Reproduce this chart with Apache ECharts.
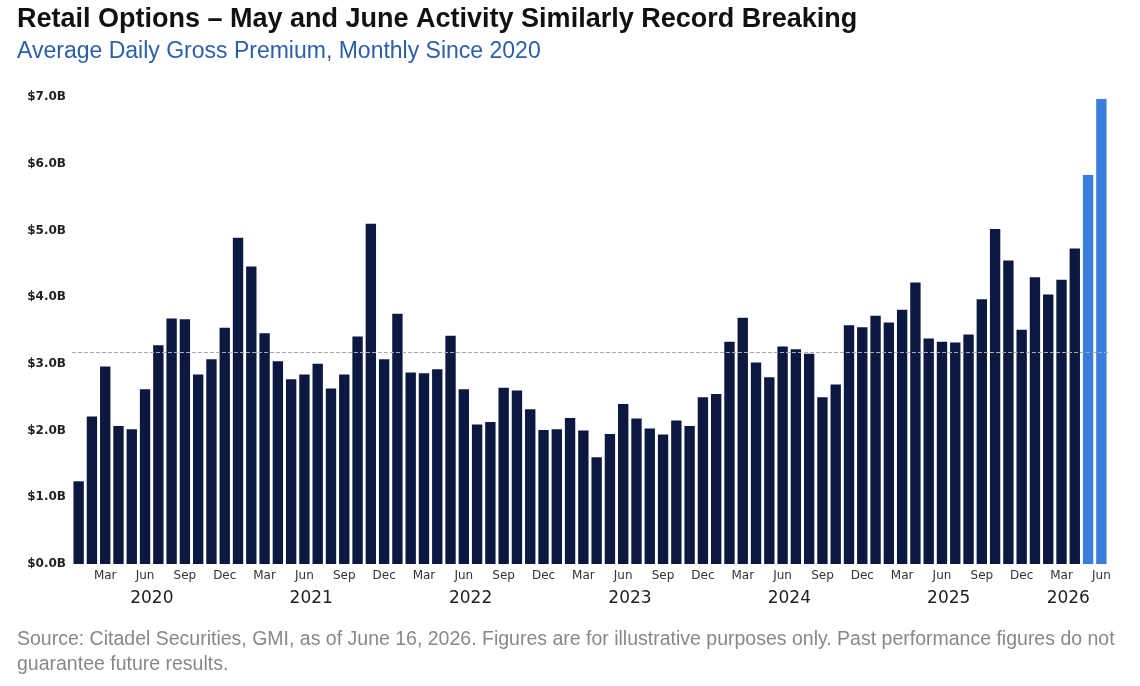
<!DOCTYPE html>
<html lang="en">
<head>
    <meta charset="UTF-8">
    <title>Retail Options</title>
    <style>
        * { margin: 0; padding: 0; box-sizing: border-box; }
        html, body { height: 100%; background: #fff; }
        #box { width: 1140px; height: 686px; }
    </style>
    <script src="https://cdn.jsdelivr.net/npm/echarts@6/dist/echarts.min.js"></script>
</head>
<body>
    <div id="box"></div>
    <script>
        var monthNames = ['Jan', 'Feb', 'Mar', 'Apr', 'May', 'Jun', 'Jul', 'Aug', 'Sep', 'Oct', 'Nov', 'Dec'];
        var years = [2020, 2021, 2022, 2023, 2024, 2025, 2026];

        // average daily gross premium, $B, Jan 2020 .. Jun 2026
        var premium = [
            1.24, 2.21, 2.96, 2.07, 2.02, 2.62, 3.28, 3.68, 3.67, 2.84, 3.07, 3.54,
            4.89, 4.46, 3.46, 3.04, 2.77, 2.84, 3.00, 2.63, 2.84, 3.41, 5.10, 3.07,
            3.75, 2.87, 2.86, 2.92, 3.42, 2.62, 2.09, 2.13, 2.64, 2.60, 2.32, 2.01,
            2.02, 2.19, 2.00, 1.60, 1.95, 2.40, 2.18, 2.03, 1.94, 2.15, 2.07, 2.50,
            2.55, 3.33, 3.69, 3.02, 2.80, 3.26, 3.22, 3.15, 2.50, 2.69, 3.58, 3.55,
            3.72, 3.62, 3.81, 4.22, 3.38, 3.33, 3.32, 3.44, 3.97, 5.02, 4.55, 3.51,
            4.30, 4.04, 4.26, 4.73, 5.83, 6.97
        ];
        var highlightFrom = 76; // May and June 2026
        var averageLine = 3.17;

        var categories = [];
        years.forEach(function (y) {
            monthNames.forEach(function (m) {
                if (categories.length < premium.length) categories.push(m + ' ' + y);
            });
        });

        var barData = premium.map(function (v, i) {
            return {
                value: v,
                itemStyle: { color: i >= highlightFrom ? '#3b7ddd' : '#0c1840' }
            };
        });

        var myChart = echarts.init(document.getElementById('box'));

        myChart.setOption({
            animation: false,
            title: [
                {
                    text: 'Retail Options \u2013 May and June Activity Similarly Record Breaking',
                    left: 12, top: 1,
                    textStyle: { fontFamily: 'Liberation Sans', fontSize: 27, fontWeight: 'bold', color: '#111' }
                },
                {
                    text: 'Average Daily Gross Premium, Monthly Since 2020',
                    left: 12, top: 35,
                    textStyle: { fontFamily: 'Liberation Sans', fontSize: 23, fontWeight: 'normal', color: '#2b5fa8' }
                },
                {
                    text: 'Source: Citadel Securities, GMI, as of June 16, 2026. Figures are for illustrative purposes only. Past performance figures do not\nguarantee future results.',
                    left: 12, top: 622,
                    textStyle: { fontFamily: 'Liberation Sans', fontSize: 19.5, fontWeight: 'normal', color: '#888', lineHeight: 25 }
                }
            ],
            grid: { left: 72, right: 32, top: 97, bottom: 122 },
            xAxis: [
                {
                    type: 'category',
                    data: categories,
                    axisLine: { show: false },
                    axisTick: { show: false },
                    axisLabel: {
                        interval: function (i) { return i % 3 === 2; },
                        formatter: function (v) { return v.split(' ')[0]; },
                        fontFamily: 'DejaVu Sans', fontSize: 12, color: '#333', margin: 6
                    }
                },
                {
                    type: 'category',
                    position: 'bottom',
                    data: categories,
                    axisLine: { show: false },
                    axisTick: { show: false },
                    axisLabel: {
                        interval: function (i) { return i % 12 === 6 || i === 75; },
                        formatter: function (v) { return v.split(' ')[1]; },
                        fontFamily: 'DejaVu Sans', fontSize: 17, color: '#222',
                        margin: 26, padding: [0, 13, 0, 0]
                    }
                }
            ],
            yAxis: {
                type: 'value',
                min: 0, max: 7, interval: 1,
                splitLine: { show: false },
                axisLabel: {
                    formatter: function (v) { return '$' + v.toFixed(1) + 'B'; },
                    fontFamily: 'DejaVu Sans', fontSize: 12, fontWeight: 'bold', color: '#222', margin: 6
                }
            },
            series: [{
                type: 'bar',
                data: barData,
                barCategoryGap: '22%',
                markLine: {
                    silent: true,
                    symbol: 'none',
                    label: { show: false },
                    lineStyle: { type: 'dashed', color: '#aaa', width: 1 },
                    data: [{ yAxis: averageLine }]
                }
            }]
        });

        window.onresize = function () { myChart.resize(); };
    </script>
</body>
</html>
